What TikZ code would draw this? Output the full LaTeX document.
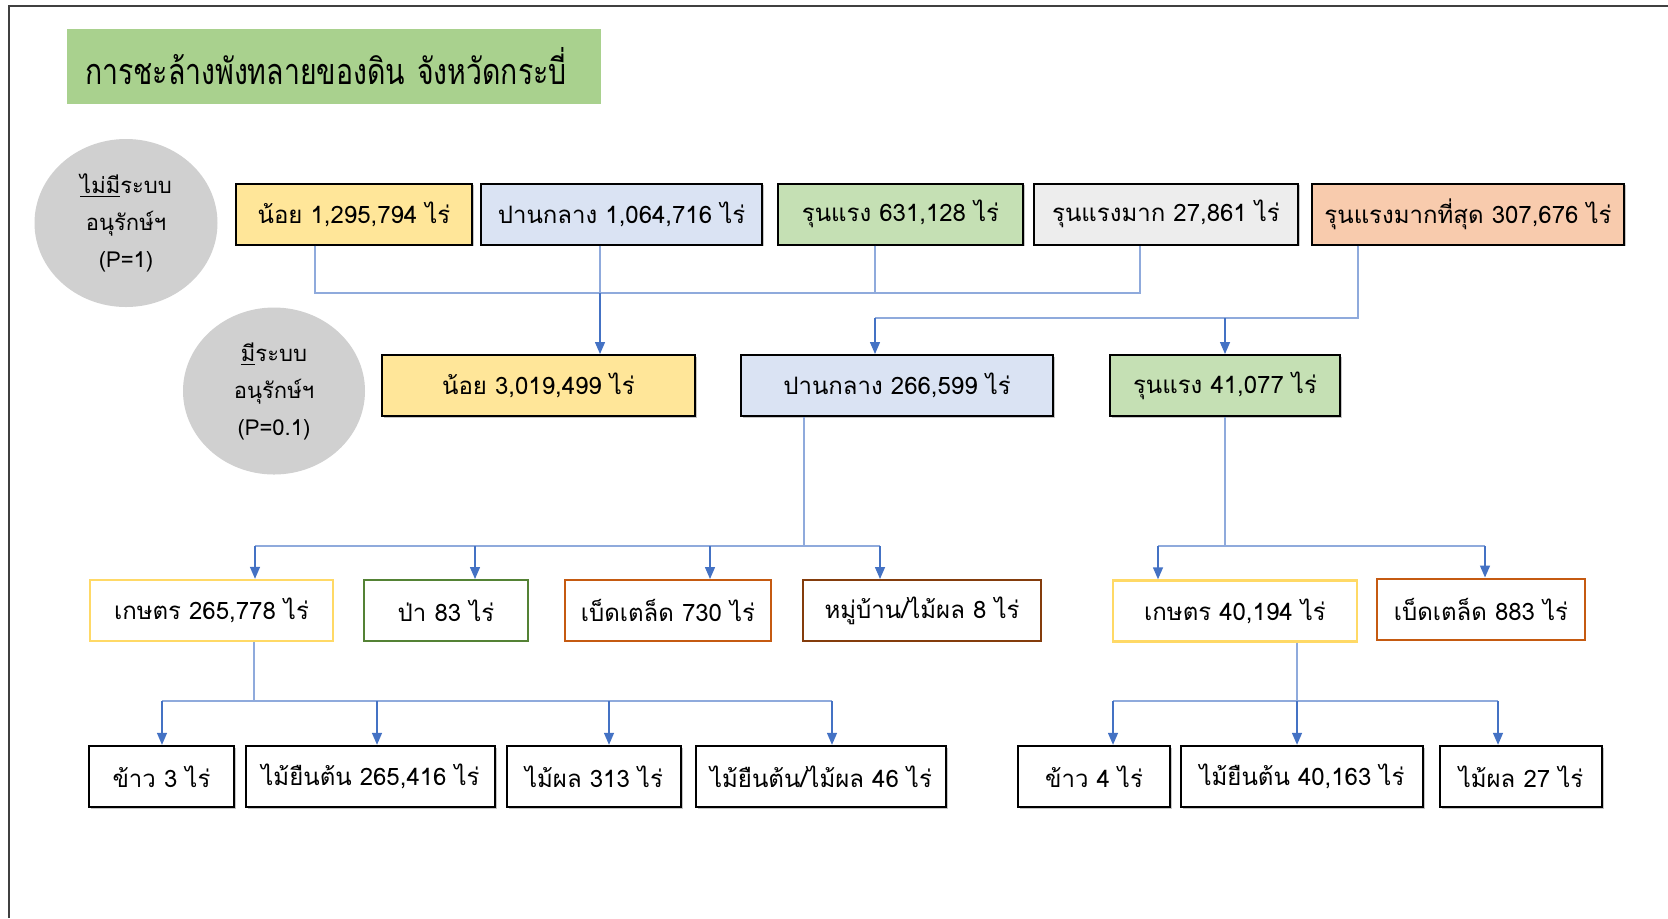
\documentclass[tikz,border=0pt]{standalone}
\usepackage{fontspec}
\newfontfamily\thaifont[Script=Thai]{Loma}
\newfontfamily\thaititle[Script=Thai, FakeStretch=0.79]{Loma}
\usetikzlibrary{arrows.meta, positioning, shapes.geometric, shadows}
\definecolor{titlegreen}{HTML}{A9D18E}
\definecolor{lowyellow}{HTML}{FFE699}
\definecolor{midblue}{HTML}{DAE3F3}
\definecolor{sevgreen}{HTML}{C5E0B4}
\definecolor{vsevgray}{HTML}{EDEDED}
\definecolor{maxpeach}{HTML}{F8CBAD}
\definecolor{circgray}{HTML}{D0D0D0}
\definecolor{edgeyellow}{HTML}{FFD966}
\definecolor{edgegreen}{HTML}{548235}
\definecolor{edgeorange}{HTML}{C55A11}
\definecolor{edgebrown}{HTML}{843C0C}
\definecolor{linkgray}{HTML}{8FAADC}
\definecolor{linkblue}{HTML}{4472C4}

\begin{document}
\begin{tikzpicture}[x=0.5pt, y=-0.5pt,
  box/.style={draw=black, line width=1pt, minimum height=30.5pt, inner sep=0pt,
    font=\thaifont\fontsize{12}{14}\selectfont},
  classbox/.style={box, drop shadow={shadow xshift=0.8pt, shadow yshift=-0.8pt, opacity=0.45}},
  landbox/.style={box, fill=white},
  cropbox/.style={box, line width=1.2pt, fill=white,
    drop shadow={shadow xshift=0.8pt, shadow yshift=-0.8pt, opacity=0.45}},
  circlabel/.style={ellipse, fill=circgray, inner sep=0pt, align=center,
    font=\thaifont\fontsize{11}{18.5}\selectfont},
  link/.style={draw=linkgray, line width=0.6pt},
  arrowlink/.style={draw=linkblue, line width=0.7pt, -{Triangle[width=5pt, length=6pt]}}
]
\useasboundingbox (0,0) rectangle (1668,918);
\draw[line width=0.8pt, black!75] (9,918) -- (9,6) -- (1668,6);

%% title
\node[fill=titlegreen, minimum height=37.5pt, inner xsep=9pt, text width=249pt, align=left,
  font=\thaititle\fontsize{18}{22}\selectfont] (title) at (334,66.5)
  {การชะล้างพังทลายของดิน จังหวัดกระบี่};

%% conservation circles
\node[circlabel, minimum width=91.5pt, minimum height=84pt] (nocons) at (126,223)
  {\underline{ไม่มี}ระบบ\\อนุรักษ์ฯ\\(P=1)};
\node[circlabel, minimum width=91pt, minimum height=83.5pt] (cons) at (274,391)
  {\underline{มี}ระบบ\\อนุรักษ์ฯ\\(P=0.1)};

%% row 1: without conservation
\node[classbox, fill=lowyellow, minimum width=118pt] (r1a) at (354,214) {น้อย 1,295,794 ไร่};
\node[classbox, fill=midblue, minimum width=140.5pt] (r1b) at (621.5,214) {ปานกลาง 1,064,716 ไร่};
\node[classbox, fill=sevgreen, minimum width=122.5pt] (r1c) at (900.5,214) {รุนแรง 631,128 ไร่};
\node[classbox, fill=vsevgray, minimum width=132pt] (r1d) at (1166,214) {รุนแรงมาก 27,861 ไร่};
\node[classbox, fill=maxpeach, minimum width=156pt] (r1e) at (1468,214) {รุนแรงมากที่สุด 307,676 ไร่};

%% row 2: with conservation
\node[classbox, fill=lowyellow, minimum width=156.5pt] (r2a) at (538.5,385.5) {น้อย 3,019,499 ไร่};
\node[classbox, fill=midblue, minimum width=156pt] (r2b) at (897,385.5) {ปานกลาง 266,599 ไร่};
\node[classbox, fill=sevgreen, minimum width=115pt] (r2c) at (1225,385.5) {รุนแรง 41,077 ไร่};

%% row 3: land use
\node[landbox, draw=edgeyellow, line width=1.2pt, minimum width=121.5pt] (r3a) at (211.5,610.5) {เกษตร 265,778 ไร่};
\node[landbox, draw=edgegreen, minimum width=82pt] (r3b) at (446,610.5) {ป่า 83 ไร่};
\node[landbox, draw=edgeorange, minimum width=103pt] (r3c) at (668,610.5) {เบ็ดเตล็ด 730 ไร่};
\node[landbox, draw=edgebrown, minimum width=119pt] (r3d) at (922,610.5) {หมู่บ้าน/ไม้ผล 8 ไร่};
\node[landbox, draw=edgeyellow, line width=1.2pt, minimum width=122pt] (r3e) at (1235,611) {เกษตร 40,194 ไร่};
\node[landbox, draw=edgeorange, minimum width=104pt] (r3f) at (1481,609) {เบ็ดเตล็ด 883 ไร่};

%% row 4: crops
\node[cropbox, minimum width=72.5pt] (r4a) at (161.5,776.5) {ข้าว 3 ไร่};
\node[cropbox, minimum width=124.5pt] (r4b) at (370.5,776.5) {ไม้ยืนต้น 265,416 ไร่};
\node[cropbox, minimum width=87pt] (r4c) at (594,776.5) {ไม้ผล 313 ไร่};
\node[cropbox, minimum width=125pt] (r4d) at (821,776.5) {ไม้ยืนต้น/ไม้ผล 46 ไร่};
\node[cropbox, minimum width=76pt] (r4e) at (1094,776.5) {ข้าว 4 ไร่};
\node[cropbox, minimum width=121pt] (r4f) at (1302,776.5) {ไม้ยืนต้น 40,163 ไร่};
\node[cropbox, minimum width=81pt] (r4g) at (1521,776.5) {ไม้ผล 27 ไร่};

%% row 1 -> row 2
\coordinate (j1a) at (315,293);
\coordinate (j1b) at (600,293);
\coordinate (j1c) at (875,293);
\coordinate (j1d) at (1140,293);
\draw[link] (r1a.south -| j1a) -- (j1a) -- (j1d) -- (r1d.south -| j1d);
\draw[link] (r1b.south -| j1b) -- (j1b);
\draw[link] (r1c.south -| j1c) -- (j1c);
\draw[arrowlink] (j1b) -- (r2a.north -| j1b);

\coordinate (j2e) at (1358,318);
\coordinate (j2b) at (875,318);
\coordinate (j2c) at (1225,318);
\draw[link] (r1e.south -| j2e) -- (j2e) -- (j2b);
\draw[arrowlink] (j2b) -- (r2b.north -| j2b);
\draw[arrowlink] (j2c) -- (r2c.north -| j2c);

%% row 2 -> row 3
\coordinate (j3) at (804,546);
\coordinate (j3a) at (255,546);
\coordinate (j3d) at (880,546);
\draw[link] (r2b.south -| j3) -- (j3);
\draw[link] (j3a) -- (j3d);
\foreach \n/\x in {r3a/255, r3b/475, r3c/710, r3d/880}
  \draw[arrowlink] (\x,546) coordinate (t\n) -- (\n.north -| t\n);

\coordinate (j4) at (1225,546);
\coordinate (j4e) at (1158,546);
\coordinate (j4f) at (1485,546);
\draw[link] (r2c.south -| j4) -- (j4);
\draw[link] (j4e) -- (j4f);
\draw[arrowlink] (j4e) -- (r3e.north -| j4e);
\draw[arrowlink] (j4f) -- (r3f.north -| j4f);

%% row 3 -> row 4
\coordinate (j5) at (254,701);
\coordinate (j5a) at (162,701);
\coordinate (j5d) at (832,701);
\draw[link] (r3a.south -| j5) -- (j5);
\draw[link] (j5a) -- (j5d);
\foreach \n/\x in {r4a/162, r4b/377, r4c/609, r4d/832}
  \draw[arrowlink] (\x,701) coordinate (t\n) -- (\n.north -| t\n);

\coordinate (j6) at (1297,701);
\coordinate (j6e) at (1113,701);
\coordinate (j6g) at (1498,701);
\draw[link] (r3e.south -| j6) -- (j6);
\draw[link] (j6e) -- (j6g);
\foreach \n/\x in {r4e/1113, r4f/1297, r4g/1498}
  \draw[arrowlink] (\x,701) coordinate (t\n) -- (\n.north -| t\n);
\end{tikzpicture}
\end{document}
